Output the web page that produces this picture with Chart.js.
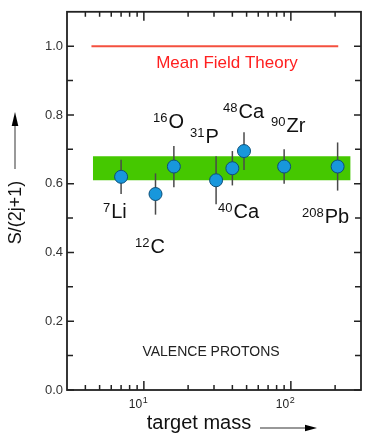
<!DOCTYPE html>
<html>
<head>
<meta charset="utf-8">
<script src="https://cdn.jsdelivr.net/npm/chart.js@4.4.1/dist/chart.umd.min.js"></script>
<style>
  html, body { margin: 0; padding: 0; background: #fff; }
  #wrap { width: 374px; height: 442px; }
</style>
</head>
<body>
<div id="wrap"><canvas id="chart" width="374" height="442"></canvas></div>
<script>
// spectroscopic factors, valence protons
const symbols = ['Li', 'C', 'O', 'P', 'Ca', 'Ca', 'Zr', 'Pb'];
const massNumbers = [7, 12, 16, 31, 40, 48, 90, 208];
const ratio = [0.62, 0.57, 0.65, 0.61, 0.645, 0.695, 0.65, 0.65];
const ratioErr = [0.05, 0.06, 0.06, 0.07, 0.05, 0.055, 0.05, 0.07];

// mean field line and the green band
const mftMass = [4.4, 210];
const mftValue = [1.0, 1.0];
const bandMass = [4.5, 255];
const bandLow = [0.61, 0.61];
const bandHigh = [0.68, 0.68];

// axes
const yTicks = [0, 0.1, 0.2, 0.3, 0.4, 0.5, 0.6, 0.7, 0.8, 0.9, 1.0];
const xMajorTicks = [10, 100];
const xTickExponents = ['1', '2'];
const xMinorTicks = [4, 5, 6, 7, 8, 9, 20, 30, 40, 50, 60, 70, 80, 90, 200];

// where the nuclide names sit (left, baseline)
const labelSpots = [[103, 218], [135, 253], [153, 128], [190, 143], [218, 218], [223, 118], [271, 132], [302, 223]];

const FONT = '"Liberation Sans", Arial, Helvetica, sans-serif';

const pts = massNumbers.map((m, i) => ({ x: m, y: ratio[i] }));

const errorBars = {
    id: 'errorBars',
    beforeDatasetDraw(chart, args) {
        if (args.index !== 0) return;
        const { ctx, scales: { x, y } } = chart;
        ctx.save();
        ctx.strokeStyle = '#4a4a4a';
        ctx.lineWidth = 1.5;
        massNumbers.forEach((m, i) => {
            const px = x.getPixelForValue(m);
            ctx.beginPath();
            ctx.moveTo(px, y.getPixelForValue(ratio[i] - ratioErr[i]));
            ctx.lineTo(px, y.getPixelForValue(ratio[i] + ratioErr[i]));
            ctx.stroke();
        });
        ctx.restore();
    }
};

const decor = {
    id: 'decor',
    afterDraw(chart) {
        const { ctx, chartArea: a, scales: { x, y } } = chart;
        ctx.save();

        // frame + inward ticks
        ctx.strokeStyle = '#222';
        ctx.lineWidth = 1.8;
        ctx.strokeRect(a.left, a.top, a.right - a.left, a.bottom - a.top);
        ctx.lineWidth = 1.5;
        ctx.beginPath();
        yTicks.forEach((v, i) => {
            const py = y.getPixelForValue(v);
            const len = i % 2 === 0 ? 7 : 6;
            ctx.moveTo(a.left, py); ctx.lineTo(a.left + len, py);
            ctx.moveTo(a.right, py); ctx.lineTo(a.right - len, py);
        });
        xMajorTicks.forEach(v => {
            const px = x.getPixelForValue(v);
            ctx.moveTo(px, a.bottom); ctx.lineTo(px, a.bottom - 9);
            ctx.moveTo(px, a.top); ctx.lineTo(px, a.top + 9);
        });
        xMinorTicks.forEach(v => {
            const px = x.getPixelForValue(v);
            ctx.moveTo(px, a.bottom); ctx.lineTo(px, a.bottom - 5);
            ctx.moveTo(px, a.top); ctx.lineTo(px, a.top + 5);
        });
        ctx.stroke();

        // x tick labels 10^n
        ctx.fillStyle = '#222';
        ctx.textBaseline = 'alphabetic';
        ctx.textAlign = 'left';
        xMajorTicks.forEach((v, i) => {
            const px = x.getPixelForValue(v) - 15;
            ctx.font = '12px ' + FONT;
            ctx.fillText('10', px, 408);
            const w = ctx.measureText('10').width;
            ctx.font = '9px ' + FONT;
            ctx.fillText(xTickExponents[i], px + w + 0.5, 403);
        });

        // nuclide labels
        ctx.fillStyle = '#111';
        symbols.forEach((s, i) => {
            const [lx, ly] = labelSpots[i];
            ctx.font = '13px ' + FONT;
            ctx.fillText(String(massNumbers[i]), lx, ly - 6);
            const w = ctx.measureText(String(massNumbers[i])).width;
            ctx.font = '20px ' + FONT;
            ctx.fillText(s, lx + w + 1, ly);
        });

        // texts in the plot
        ctx.textAlign = 'center';
        ctx.fillStyle = '#ff2020';
        ctx.font = '17px ' + FONT;
        ctx.fillText('Mean Field Theory', 227, 68);
        ctx.fillStyle = '#222';
        ctx.font = '14px ' + FONT;
        ctx.textBaseline = 'middle';
        ctx.fillText('VALENCE PROTONS', 211, 352);

        // x title + arrow
        ctx.textBaseline = 'alphabetic';
        ctx.fillStyle = '#111';
        ctx.font = '20px ' + FONT;
        ctx.fillText('target mass', 199, 429);
        ctx.strokeStyle = '#333';
        ctx.lineWidth = 1.2;
        ctx.beginPath();
        ctx.moveTo(260, 428); ctx.lineTo(307, 428);
        ctx.stroke();
        ctx.fillStyle = '#000';
        ctx.beginPath();
        ctx.moveTo(317, 428); ctx.lineTo(305, 424.7); ctx.lineTo(305, 431.3);
        ctx.closePath(); ctx.fill();

        // y title + arrow
        ctx.save();
        ctx.translate(16, 212.5);
        ctx.rotate(-Math.PI / 2);
        ctx.fillStyle = '#111';
        ctx.font = '18px ' + FONT;
        ctx.textBaseline = 'middle';
        ctx.fillText('S/(2j+1)', 0, 0);
        ctx.restore();
        ctx.strokeStyle = '#777';
        ctx.lineWidth = 1.5;
        ctx.beginPath();
        ctx.moveTo(15, 169); ctx.lineTo(15, 124);
        ctx.stroke();
        ctx.fillStyle = '#000';
        ctx.beginPath();
        ctx.moveTo(15, 112); ctx.lineTo(11.7, 126); ctx.lineTo(18.3, 126);
        ctx.closePath(); ctx.fill();

        ctx.restore();
    }
};

new Chart(document.getElementById('chart'), {
    type: 'scatter',
    data: {
        datasets: [
            {
                data: pts,
                pointRadius: 6.5,
                pointHoverRadius: 6.5,
                backgroundColor: '#1897dc',
                borderColor: '#0d4f78',
                borderWidth: 1
            },
            {
                data: mftMass.map((m, i) => ({ x: m, y: mftValue[i] })),
                showLine: true,
                pointRadius: 0,
                borderColor: '#f4503f',
                borderWidth: 2
            },
            {
                data: bandMass.map((m, i) => ({ x: m, y: bandHigh[i] })),
                showLine: true,
                pointRadius: 0,
                borderColor: 'rgba(0,0,0,0)',
                borderWidth: 0,
                backgroundColor: '#45c800',
                fill: '+1'
            },
            {
                data: bandMass.map((m, i) => ({ x: m, y: bandLow[i] })),
                showLine: true,
                pointRadius: 0,
                borderColor: 'rgba(0,0,0,0)',
                borderWidth: 0,
                fill: false
            }
        ]
    },
    options: {
        responsive: false,
        animation: false,
        devicePixelRatio: 1,
        layout: { padding: { top: 11, right: 13, left: 0, bottom: 0 } },
        plugins: { legend: { display: false }, tooltip: { enabled: false } },
        scales: {
            x: {
                type: 'logarithmic',
                min: 3,
                max: 300,
                ticks: { display: false },
                grid: { display: false, drawTicks: false },
                border: { display: false },
                afterFit: (s) => { s.height = 52; }
            },
            y: {
                min: 0,
                max: 1.1,
                ticks: {
                    stepSize: 0.2,
                    includeBounds: false,
                    padding: 4,
                    color: '#333',
                    font: { size: 13, family: FONT },
                    callback: (v) => v.toFixed(1)
                },
                grid: { display: false, drawTicks: false },
                border: { display: false },
                afterFit: (s) => { s.width = 67; }
            }
        }
    },
    plugins: [errorBars, decor]
});
</script>
</body>
</html>
